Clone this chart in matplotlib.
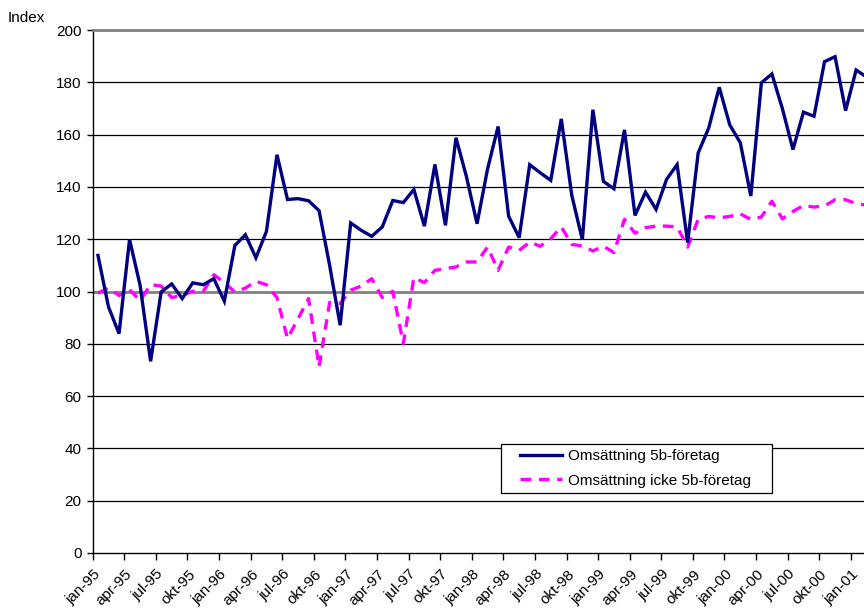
import matplotlib
matplotlib.use("Agg")
import matplotlib.pyplot as plt
from matplotlib.patches import Rectangle
import numpy as np

plt.rcParams['font.family'] = ['Liberation Sans', 'DejaVu Sans']

months = ['jan', 'feb', 'mar', 'apr', 'maj', 'jun', 'jul', 'aug', 'sep', 'okt', 'nov', 'dec']
years = ['95', '96', '97', '98', '99', '00', '01']
categories = [f"{m}-{y}" for y in years for m in months][:74]

omsattning_5b = [
    113.8, 94.1, 83.9, 119.9, 102.4, 73.3, 99.8, 102.9, 97.3, 103.3, 102.6, 104.9,
    96.3, 117.6, 121.7, 112.9, 123.0, 152.3, 135.2, 135.5, 134.7, 130.9, 110.0, 87.1,
    126.2, 123.4, 121.1, 124.7, 134.8, 134.0, 139.0, 125.0, 148.6, 125.3, 158.8, 143.8,
    125.9, 146.9, 163.1, 128.8, 120.6, 148.5, 145.4, 142.5, 166.0, 136.7, 119.8, 169.5,
    142.1, 139.3, 161.8, 129.1, 138.0, 131.4, 142.9, 148.5, 118.7, 153.0, 162.5, 178.1,
    163.7, 156.9, 136.5, 179.8, 183.2, 169.9, 154.3, 168.6, 167.0, 187.9, 189.8, 169.2,
    184.7, 182.0,
]
omsattning_icke_5b = [
    99.4, 101.3, 98.5, 100.7, 96.6, 102.6, 102.1, 97.7, 98.5, 100.1, 100.1, 106.4,
    103.4, 99.8, 101.3, 103.9, 102.6, 97.7, 82.0, 89.6, 97.3, 71.2, 95.8, 95.4,
    100.5, 102.1, 104.9, 97.7, 100.1, 80.1, 105.3, 103.4, 108.1, 108.7, 109.4, 111.3,
    111.3, 117.0, 108.1, 117.0, 115.7, 118.9, 117.3, 120.2, 124.7, 118.0, 117.4, 115.5,
    117.3, 114.9, 127.6, 122.3, 124.4, 125.0, 125.0, 124.7, 117.0, 127.6, 128.7, 128.2,
    128.7, 129.7, 127.6, 128.5, 134.5, 127.8, 130.6, 132.9, 132.3, 132.7, 135.1, 135.1,
    133.6, 133.0,
]
series_names = ['Omsättning 5b-företag', 'Omsättning icke 5b-företag']
y_label = 'Index'

W, H = 864, 612
fig = plt.figure(figsize=(W / 100, H / 100), dpi=100)
n = len(categories)
px_per_cat = 10.53
left_px, top_px, bottom_px = 92.7, 30.0, 553.0
ax = fig.add_axes([left_px / W, 1 - bottom_px / H, n * px_per_cat / W, (bottom_px - top_px) / H])

x = np.arange(n)
ax.set_xlim(-0.5, n - 0.5)
ax.set_ylim(0, 200)

# gridlines
for v in range(20, 200, 20):
    if v == 100:
        ax.axhline(v, color='#808080', lw=2.0, zorder=1)
    else:
        ax.axhline(v, color='black', lw=0.9, zorder=1)

ax.plot(x, omsattning_5b, color='#000080', lw=2.4, label=series_names[0], zorder=3,
        solid_joinstyle='miter')
ax.plot(x, omsattning_icke_5b, color='#FF00FF', lw=2.4, linestyle=(0, (3.2, 2.3)),
        dash_capstyle='butt', label=series_names[1], zorder=2)

ax.spines['right'].set_visible(False)
ax.spines['top'].set_color('#808080')
ax.spines['top'].set_linewidth(2.0)
ax.spines['left'].set_color('black')
ax.spines['bottom'].set_color('black')
ax.spines['left'].set_linewidth(1.0)
ax.spines['bottom'].set_linewidth(1.0)

ax.set_yticks(range(0, 201, 20))
ax.tick_params(axis='y', direction='out', length=4, width=1, labelsize=11, pad=4)

# x ticks at category boundaries, labels near category centres
ax.set_xticks(np.arange(-0.5, n, 3))
ax.set_xticklabels([])
ax.tick_params(axis='x', which='major', direction='out', length=5, width=1)
ax.set_xticks(np.arange(0, n, 3) - 0.45, minor=True)
ax.set_xticklabels(categories[::3], minor=True, rotation=45, ha='right', va='top',
                   rotation_mode='anchor', fontsize=11)
ax.tick_params(axis='x', which='minor', length=0, pad=10)

fig.text(8 / W, 1 - 18 / H, y_label, fontsize=11, ha='left', va='center')

# legend frame drawn as a separate box
box = Rectangle((500.7 / W, 1 - 492.7 / H), 271.0 / W, 48.7 / H, transform=fig.transFigure,
                facecolor='white', edgecolor='black', linewidth=0.9, zorder=4, clip_on=False)
ax.add_patch(box)

leg = ax.legend(loc='center left', bbox_to_anchor=(520.0 / W, 1 - 468.5 / H),
                bbox_transform=fig.transFigure, frameon=False, fontsize=11, borderaxespad=0,
                borderpad=0, handlelength=2.75, labelspacing=0.68, handletextpad=0.42)
leg.set_zorder(5)

fig.savefig('out.png', dpi=100)
